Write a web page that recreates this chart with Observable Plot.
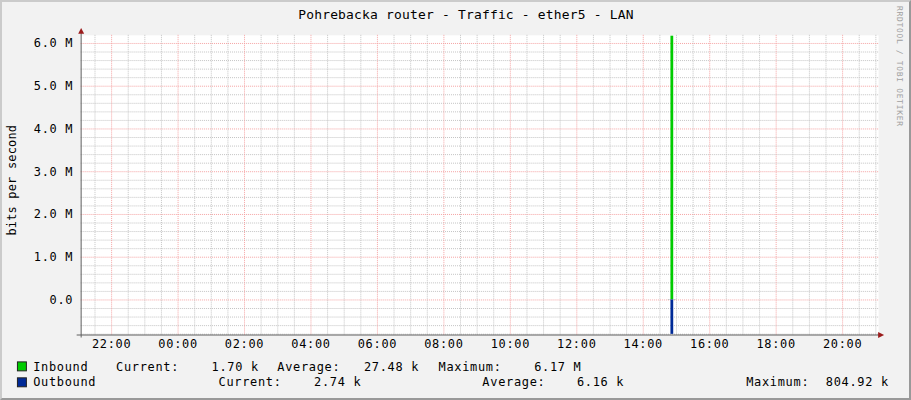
<!DOCTYPE html>
<html>
<head>
<meta charset="utf-8">
<script src="https://cdn.jsdelivr.net/npm/d3@7"></script>
<script src="https://cdn.jsdelivr.net/npm/@observablehq/plot@0.6"></script>
<style>
  html, body { margin: 0; padding: 0; background: #f2f2f2; }
  #wrap {
    position: relative; width: 911px; height: 400px; overflow: hidden;
    background: #f2f2f2; box-sizing: border-box;
    border-top: 2px solid #cbcbcb; border-left: 2px solid #cbcbcb;
    border-right: 2px solid #999; border-bottom: 2px solid #999;
  }
  #wrap svg { position: absolute; left: -2px; top: -2px; }
</style>
</head>
<body>
<div id="wrap"></div>
<script>
// ---------- data ----------
const title = "Pohrebacka router - Traffic - ether5 - LAN";
const yAxisLabel = "bits per second";
const watermark = "RRDTOOL / TOBI OETIKER";

// 24 h window (UTC)
const windowStart = "2024-01-01T21:05";
const windowEnd   = "2024-01-02T21:05";

// x tick labels (every 2 hours) with the day they fall on
const xTickLabels = ["22:00","00:00","02:00","04:00","06:00","08:00","10:00","12:00","14:00","16:00","18:00","20:00"];
const xTickDays   = ["2024-01-01","2024-01-02","2024-01-02","2024-01-02","2024-01-02","2024-01-02","2024-01-02","2024-01-02","2024-01-02","2024-01-02","2024-01-02","2024-01-02"];

// y tick values and labels
const yTickValues = [0, 1e6, 2e6, 3e6, 4e6, 5e6, 6e6];
const yTickLabels = ["0.0", "1.0 M", "2.0 M", "3.0 M", "4.0 M", "5.0 M", "6.0 M"];

// visible 5-minute samples (start time), bits per second
const sampleStarts = ["2024-01-02T14:45", "2024-01-02T14:50", "2024-01-02T14:55"];
const inboundBps   = [1700, 6170000, 1700];
const outboundBps  = [2740, 804920, 2740];

// legend
const seriesNames  = ["Inbound", "Outbound"];
const seriesColors = ["#00cc00", "#002a97"];
const statNames    = ["Current:", "Average:", "Maximum:"];
const inboundStats  = ["1.70 k", "27.48 k", "6.17 M"];
const outboundStats = ["2.74 k", "6.16 k", "804.92 k"];

// ---------- build ----------
const utc = s => new Date(s + ":00Z");
const xDomain = [utc(windowStart), utc(windowEnd)];
const xTicks = xTickLabels.map((l, i) => utc(xTickDays[i] + "T" + l));
const yDomain = [-820000, 6190000];

const samples = sampleStarts.map((s, i) => ({
  t0: utc(s),
  t1: new Date(+utc(s) + 5 * 60 * 1000),
  inb: inboundBps[i],
  out: -outboundBps[i]
}));

const xMinor = d3.utcMinute.every(30).range(xDomain[0], xDomain[1])
  .filter(d => !(d.getUTCMinutes() === 0 && d.getUTCHours() % 2 === 0));
const xMajor = d3.utcHour.every(2).range(xDomain[0], xDomain[1]);
const yMinor = d3.range(-4, 31).filter(i => i % 5 !== 0).map(i => i * 200000);

const FONT = "'DejaVu Sans Mono', monospace";

const plot = Plot.plot({
  width: 911,
  height: 400,
  marginLeft: 81,
  marginRight: 29,
  marginTop: 35,
  marginBottom: 64,
  style: { background: "transparent", fontFamily: FONT, fontSize: "12px", letterSpacing: "0.7px", color: "#000" },
  x: { type: "utc", domain: xDomain, ticks: xTicks, tickFormat: d3.utcFormat("%H:%M"), tickSize: 0, tickPadding: 5, label: null },
  y: { domain: yDomain, ticks: yTickValues, tickFormat: d => yTickLabels[yTickValues.indexOf(d)], tickSize: 0, tickPadding: 8, label: null },
  marks: [
    Plot.frame({ fill: "white", stroke: null }),
    Plot.ruleX(xMinor, { stroke: "#c4c4c4", strokeDasharray: "1,1" }),
    Plot.ruleY(yMinor, { stroke: "#c4c4c4", strokeDasharray: "1,1" }),
    Plot.ruleX(xMajor, { stroke: "#f5a3a3", strokeDasharray: "1,1" }),
    Plot.ruleY(yTickValues, { stroke: "#f5a3a3", strokeDasharray: "1,1" }),
    Plot.rectY(samples, { x1: "t0", x2: "t1", y1: 0, y2: "inb", fill: seriesColors[0] }),
    Plot.rectY(samples, { x1: "t0", x2: "t1", y1: 0, y2: "out", fill: seriesColors[1] })
  ]
});

document.getElementById("wrap").appendChild(plot);

// ---------- decorations: axes lines, arrows, title, labels, legend ----------
const svg = d3.select(plot);
const g = svg.append("g").attr("font-family", FONT).attr("text-anchor", "start");

// axis lines
g.append("line").attr("x1", 81.5).attr("x2", 81.5).attr("y1", 33).attr("y2", 339).attr("stroke", "#606060");
g.append("line").attr("x1", 77).attr("x2", 884).attr("y1", 336.5).attr("y2", 336.5).attr("stroke", "#606060");
// arrows
g.append("path").attr("d", "M78.5,34 L84.5,34 L81.5,28 Z").attr("fill", "#9b1c1c");
g.append("path").attr("d", "M882,333.5 L882,339.5 L888,336.5 Z").attr("fill", "#9b1c1c");

// title
g.append("text").attr("x", 468).attr("y", 19).attr("text-anchor", "middle")
  .attr("font-size", 13).attr("letter-spacing", "0.2px").attr("fill", "#000").text(title);

// y axis label
g.append("text").attr("transform", "translate(16,181) rotate(-90)").attr("text-anchor", "middle")
  .attr("font-size", 12).attr("letter-spacing", "0.2px").attr("fill", "#000").text(yAxisLabel);

// watermark
g.append("text").attr("transform", "translate(901,6) rotate(90)").attr("text-anchor", "start")
  .attr("font-size", 8).attr("fill", "#a0a0a0").text(watermark);

// legend
const legendRows = [
  { y: 372.5, sq: 363.5, name: seriesNames[0], color: seriesColors[0], stats: inboundStats,
    labelX: [116.5, 278.5, 440.5], valX: [212.5, 365.5, 536.5] },
  { y: 388, sq: 379.5, name: seriesNames[1], color: seriesColors[1], stats: outboundStats,
    labelX: [219.5, 484.5, 749.5], valX: [315.5, 579.5, 829.5] }
];
legendRows.forEach(r => {
  g.append("rect").attr("x", 17.5).attr("y", r.sq).attr("width", 9).attr("height", 9)
    .attr("fill", r.color).attr("stroke", "#222");
  const tx = (x, s) => g.append("text").attr("x", x).attr("y", r.y).attr("font-size", 12)
    .attr("letter-spacing", "0.7px").attr("fill", "#000").text(s);
  tx(33.3, r.name);
  statNames.forEach((n, i) => { tx(r.labelX[i], n); tx(r.valX[i], r.stats[i]); });
});
</script>
</body>
</html>
